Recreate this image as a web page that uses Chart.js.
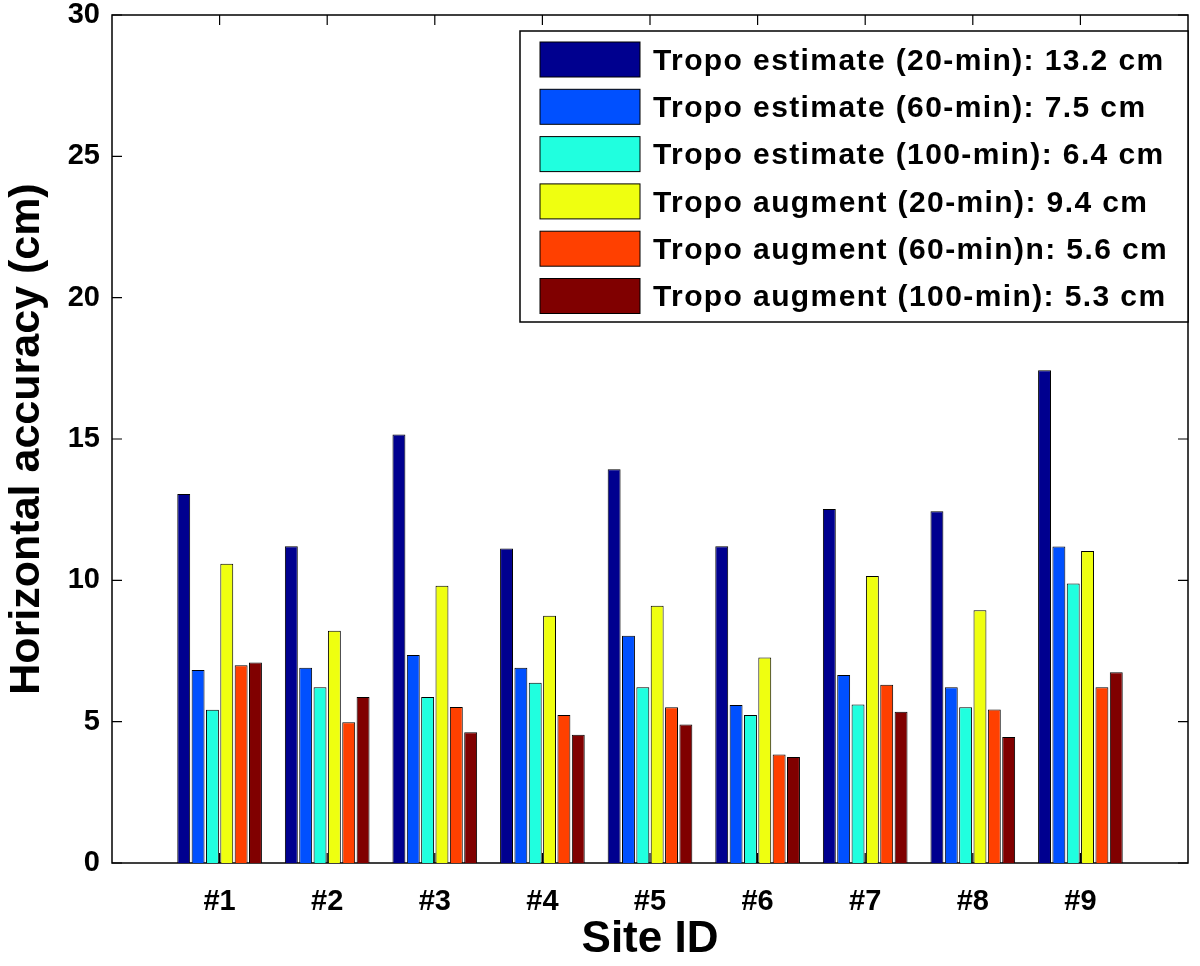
<!DOCTYPE html>
<html>
<head>
<meta charset="utf-8">
<script src="https://cdn.jsdelivr.net/npm/chart.js@4/dist/chart.umd.min.js"></script>
<style>
  html, body { margin: 0; padding: 0; background: #fff; }
  #wrap { width: 1200px; height: 966px; }
</style>
</head>
<body>
<div id="wrap"><canvas id="myChart" width="1200" height="966"></canvas></div>
<script>
const sites = ['#1', '#2', '#3', '#4', '#5', '#6', '#7', '#8', '#9']
const yTicks = [0, 5, 10, 15, 20, 25, 30]

const seriesLabels = [
    'Tropo estimate (20-min): 13.2 cm',
    'Tropo estimate (60-min): 7.5 cm',
    'Tropo estimate (100-min): 6.4 cm',
    'Tropo augment (20-min): 9.4 cm',
    'Tropo augment (60-min)n: 5.6 cm',
    'Tropo augment (100-min): 5.3 cm'
]
const seriesColors = ['#00008f', '#0050ff', '#20ffdf', '#efff10', '#ff4000', '#800000']

const estimate20 = [13.05, 11.21, 15.16, 11.13, 13.93, 11.21, 12.52, 12.44, 17.43]
const estimate60 = [6.83, 6.91, 7.36, 6.91, 8.04, 5.59, 6.65, 6.22, 11.20]
const estimate100 = [5.42, 6.22, 5.87, 6.38, 6.22, 5.24, 5.61, 5.51, 9.89]
const augment20 = [10.59, 8.22, 9.81, 8.75, 9.10, 7.27, 10.15, 8.94, 11.04]
const augment60 = [7.00, 4.98, 5.52, 5.24, 5.51, 3.84, 6.31, 5.43, 6.22]
const augment100 = [7.09, 5.87, 4.63, 4.54, 4.90, 3.75, 5.35, 4.46, 6.75]

const series = [estimate20, estimate60, estimate100, augment20, augment60, augment100]

const FONT = "'Liberation Sans', Arial, Helvetica, sans-serif"
Chart.defaults.font.family = FONT
Chart.defaults.color = '#000'

// matlab style box with inward ticks
const axesBox = {
    id: 'axesBox',
    beforeDatasetsDraw(chart) {
        const ctx = chart.ctx
        const a = chart.chartArea
        const xs = chart.scales.x, ys = chart.scales.y
        ctx.save()
        ctx.strokeStyle = '#000'
        ctx.lineWidth = 1.5
        ctx.strokeRect(a.left, a.top, a.right - a.left, a.bottom - a.top)
        ctx.lineWidth = 1.2
        ctx.beginPath()
        yTicks.forEach(v => {
            const y = ys.getPixelForValue(v)
            ctx.moveTo(a.left, y); ctx.lineTo(a.left + 10, y)
            ctx.moveTo(a.right, y); ctx.lineTo(a.right - 10, y)
        })
        sites.forEach((s, i) => {
            const x = xs.getPixelForValue(i + 1)
            ctx.moveTo(x, a.top); ctx.lineTo(x, a.top + 10)
            ctx.moveTo(x, a.bottom); ctx.lineTo(x, a.bottom - 10)
        })
        ctx.stroke()
        ctx.restore()
    }
}

const legendBox = {
    id: 'legendBox',
    afterDraw(chart) {
        const ctx = chart.ctx
        const a = chart.chartArea
        const rowH = 47.3
        const right = a.right
        const left = right - 668
        const top = a.top + 16
        const height = 291
        ctx.save()
        ctx.fillStyle = '#fff'
        ctx.fillRect(left, top, right - left, height)
        ctx.strokeStyle = '#000'
        ctx.lineWidth = 1.5
        ctx.strokeRect(left, top, right - left, height)
        ctx.lineWidth = 1
        ctx.font = 'bold 30px ' + FONT
        ctx.letterSpacing = '1.4px'
        ctx.textBaseline = 'middle'
        ctx.textAlign = 'left'
        chart.data.datasets.forEach((ds, i) => {
            const cy = top + 28.5 + i * rowH
            ctx.fillStyle = ds.backgroundColor
            ctx.fillRect(left + 20, cy - 17.5, 100, 35)
            ctx.strokeRect(left + 20, cy - 17.5, 100, 35)
            ctx.fillStyle = '#000'
            ctx.fillText(ds.label, left + 133, cy + 2)
        })
        ctx.restore()
    }
}

const ctx = document.getElementById('myChart').getContext('2d')

new Chart(ctx, {
    type: 'bar',
    data: {
        datasets: series.map((vals, i) => ({
            label: seriesLabels[i],
            data: vals.map((v, j) => ({ x: j + 1, y: v })),
            backgroundColor: seriesColors[i],
            borderColor: '#000',
            borderWidth: 1,
            categoryPercentage: 0.8,
            barPercentage: 0.9
        }))
    },
    options: {
        responsive: false,
        animation: false,
        layout: { padding: { top: 15, right: 12, left: 0, bottom: 0 } },
        plugins: {
            legend: { display: false },
            tooltip: { enabled: false }
        },
        scales: {
            x: {
                type: 'linear',
                offset: false,
                min: 0,
                max: sites.length + 1,
                grid: { display: false, drawTicks: false, offset: false },
                border: { display: false },
                afterBuildTicks: scale => {
                    scale.ticks = sites.map((s, i) => ({ value: i + 1 }))
                },
                afterFit: scale => {
                    scale.height = 103
                    scale.paddingLeft = 0
                    scale.paddingRight = 0
                },
                ticks: {
                    autoSkip: false,
                    maxRotation: 0,
                    padding: 22,
                    font: { size: 29, weight: 'bold' },
                    callback: v => sites[v - 1]
                },
                title: {
                    display: true,
                    text: 'Site ID',
                    font: { size: 44, weight: 'bold' },
                    padding: { top: 0, bottom: 0 }
                }
            },
            y: {
                min: 0,
                max: 30,
                grid: { display: false, drawTicks: false },
                border: { display: false },
                afterBuildTicks: scale => {
                    scale.ticks = yTicks.map(v => ({ value: v }))
                },
                afterFit: scale => {
                    scale.width = 112
                    scale.paddingTop = 0
                    scale.paddingBottom = 0
                },
                ticks: {
                    padding: 12,
                    font: { size: 29, weight: 'bold' }
                },
                title: {
                    display: true,
                    text: 'Horizontal accuracy (cm)',
                    font: { size: 43, weight: 'bold' },
                    padding: { top: 1, bottom: 0 }
                }
            }
        }
    },
    plugins: [axesBox, legendBox]
})
</script>
</body>
</html>
